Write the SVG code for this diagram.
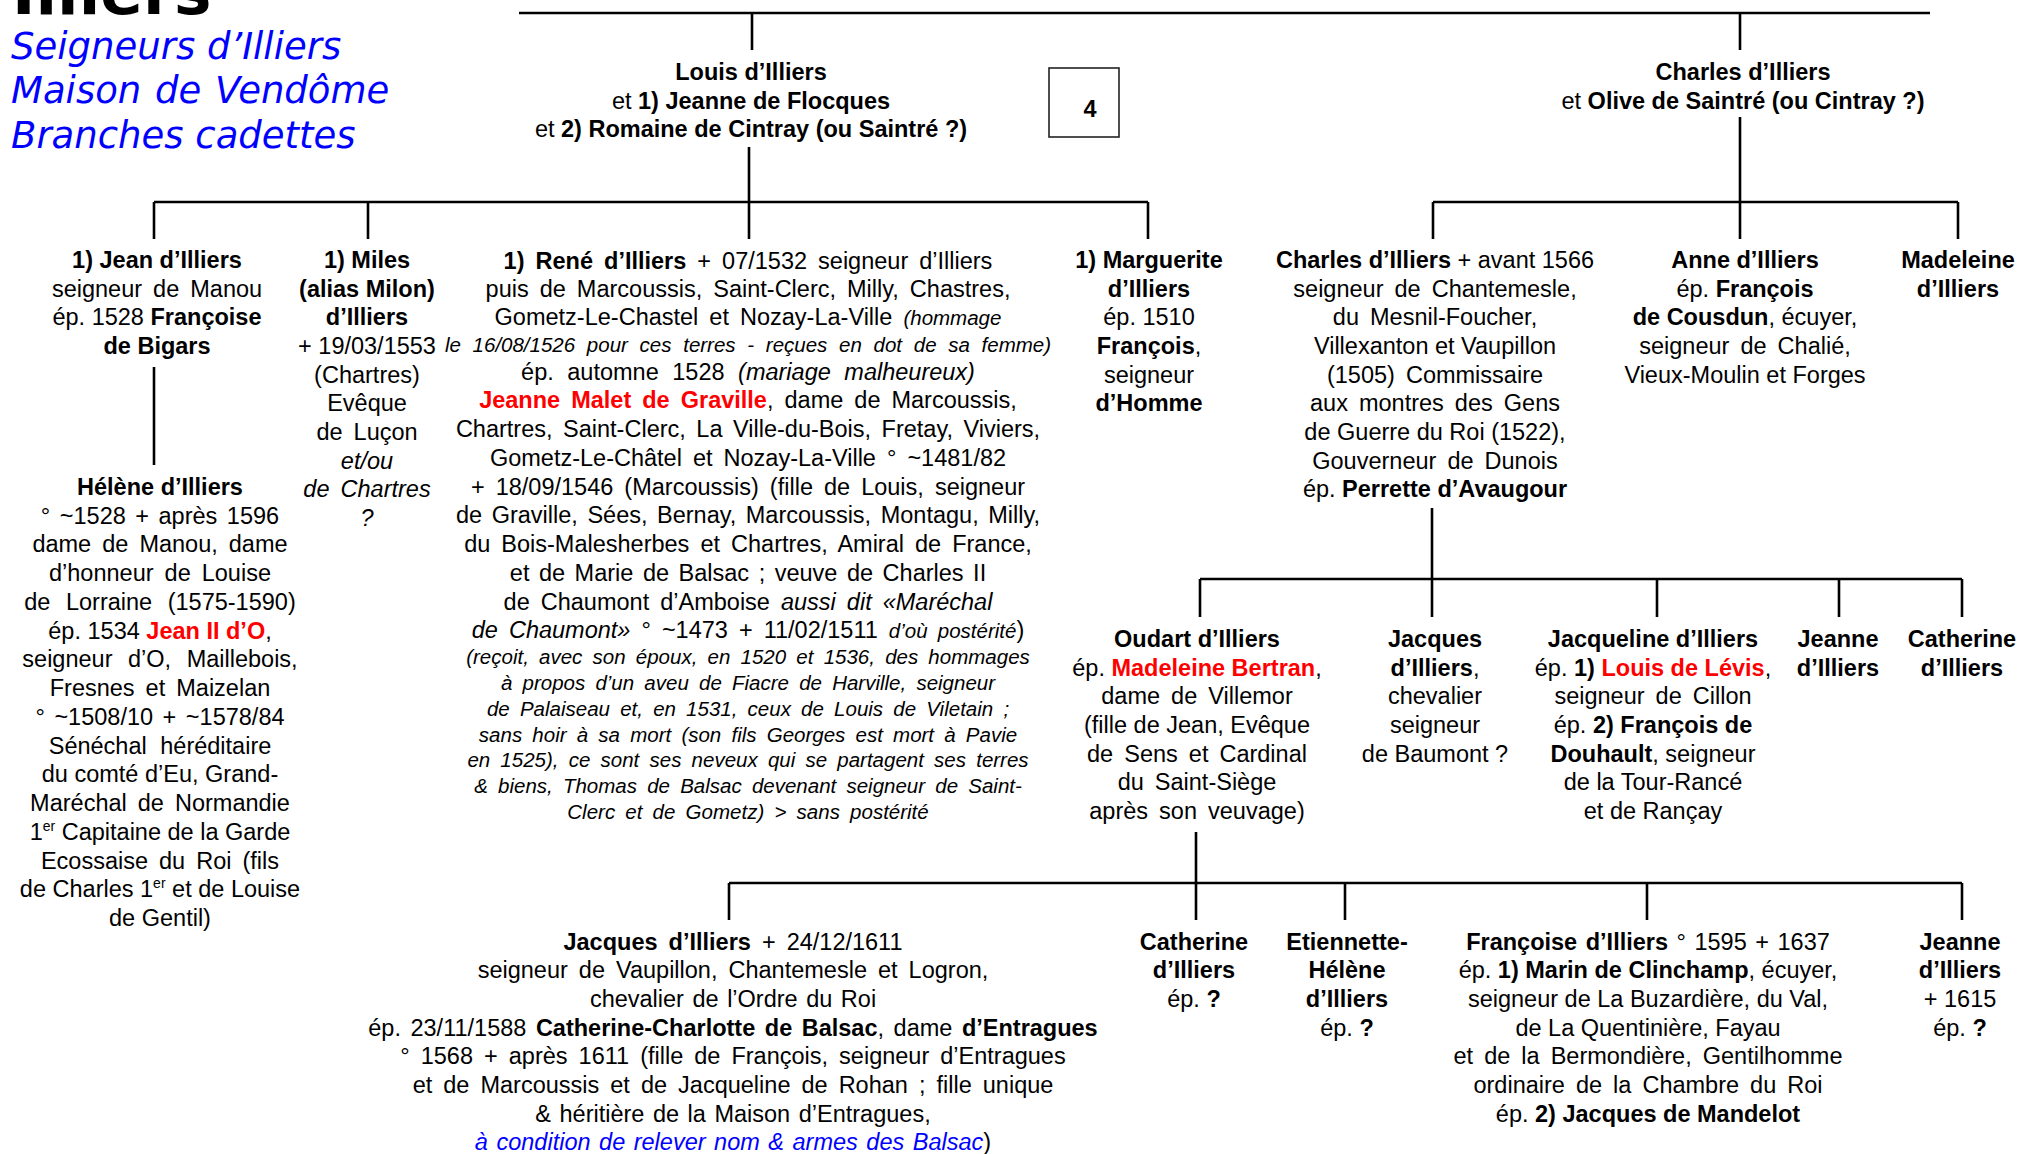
<svg xmlns="http://www.w3.org/2000/svg" width="2020" height="1154" viewBox="0 0 2020 1154">
<style>
text{font-family:"Liberation Sans",Arial,sans-serif;font-size:23.5px;fill:#000;text-anchor:middle}
.b{font-weight:bold}
.i{font-style:italic}
.s{font-size:20.5px;font-style:italic}
.r{fill:#f00;font-weight:bold}
.bl{fill:#00f;font-style:italic}
.j{word-spacing:4.5px}
.title{font-family:"DejaVu Sans",Verdana,sans-serif;font-weight:bold;font-size:63px;text-anchor:start}
.sub{font-family:"DejaVu Sans",Verdana,sans-serif;font-style:italic;font-size:37px;fill:#00f;text-anchor:start}
.c{stroke:#000;stroke-width:2.6;fill:none}
.box{stroke:#222;stroke-width:1.6;fill:#fff}
</style>
<rect width="2020" height="1154" fill="#fff"/>
<g id="title">
<text class="title" x="12" y="14">Illiers</text>
<text class="sub" x="11" y="59">Seigneurs d’Illiers</text>
<text class="sub" x="11" y="103" word-spacing="2">Maison de Vendôme</text>
<text class="sub" x="11" y="148">Branches cadettes</text>
</g>
<g id="connectors">
<path class="c" d="M519,13H1930M752,13V50M1740,13V50"/>
<path class="c" d="M749,147V239M154,202H1148M154,202V239M368,202V239M1148,202V239"/>
<path class="c" d="M1740,117V239M1433,202H1958M1433,202V239M1958,202V239"/>
<path class="c" d="M154,367V465"/>
<path class="c" d="M1432,508V617M1200,579H1962M1200,579V617M1657,579V617M1839,579V617M1962,579V617"/>
<path class="c" d="M1196,832V920M729,883H1962M729,883V920M1345,883V920M1647,883V920M1962,883V920"/>
</g>
<g id="box4">
<rect class="box" x="1049" y="68" width="70" height="69"/>
<text class="b" x="1090" y="117" font-size="26">4</text>
</g>
<g id="louis">
<text x="751" y="80" class="b">Louis d’Illiers</text>
<text x="751" y="108.5">et <tspan class="b">1) Jeanne de Flocques</tspan></text>
<text x="751" y="137">et <tspan class="b">2) Romaine de Cintray (ou Saintré ?)</tspan></text>
</g>
<g id="charles">
<text x="1743" y="80" class="b">Charles d’Illiers</text>
<text x="1743" y="108.5">et <tspan class="b">Olive de Saintré (ou Cintray ?)</tspan></text>
</g>
<g id="jean">
<text x="157" y="268" class="b">1) Jean d’Illiers</text>
<text x="157" y="297" class="j">seigneur de Manou</text>
<text x="157" y="325">ép. 1528 <tspan class="b">Françoise</tspan></text>
<text x="157" y="354" class="b">de Bigars</text>
</g>
<g id="miles">
<text x="367" y="268" class="b">1) Miles</text>
<text x="367" y="297" class="b">(alias Milon)</text>
<text x="367" y="325" class="b">d’Illiers</text>
<text x="367" y="354">+ 19/03/1553</text>
<text x="367" y="383">(Chartres)</text>
<text x="367" y="411">Evêque</text>
<text x="367" y="440" class="j">de Luçon</text>
<text x="367" y="469" class="i">et/ou</text>
<text x="367" y="497" class="i j">de Chartres</text>
<text x="367" y="526" class="i">?</text>
</g>
<g id="rene">
<text x="748" y="269" class="j"><tspan class="b">1) René d’Illiers</tspan> + 07/1532 seigneur d’Illiers</text>
<text x="748" y="297" class="j">puis de Marcoussis, Saint-Clerc, Milly, Chastres,</text>
<text x="748" y="325" class="j">Gometz-Le-Chastel et Nozay-La-Ville <tspan class="s">(hommage</tspan></text>
<text x="748" y="352" class="s" word-spacing="6">le 16/08/1526 pour ces terres - reçues en dot de sa femme)</text>
<text x="748" y="380" word-spacing="7">ép. automne 1528  <tspan class="i">(mariage malheureux)</tspan></text>
<text x="748" y="408" class="j"><tspan class="r">Jeanne Malet de Graville</tspan>, dame de Marcoussis,</text>
<text x="748" y="437" word-spacing="4">Chartres, Saint-Clerc, La Ville-du-Bois, Fretay, Viviers,</text>
<text x="748" y="466" class="j">Gometz-Le-Châtel et Nozay-La-Ville  ° ~1481/82</text>
<text x="748" y="495" class="j">+ 18/09/1546 (Marcoussis) (fille de Louis, seigneur</text>
<text x="748" y="523" word-spacing="3">de Graville, Sées, Bernay, Marcoussis, Montagu, Milly,</text>
<text x="748" y="552" class="j">du Bois-Malesherbes et Chartres, Amiral de France,</text>
<text x="748" y="581" word-spacing="3">et de Marie de Balsac ; veuve de Charles II</text>
<text x="748" y="610" class="j">de Chaumont d’Amboise <tspan class="i">aussi dit «Maréchal</tspan></text>
<text x="748" y="638" class="j"><tspan class="i">de Chaumont»</tspan> ° ~1473 + 11/02/1511 <tspan class="s">d’où postérité</tspan>)</text>
<text x="748" y="664" class="s j">(reçoit, avec son époux, en 1520 et 1536, des hommages</text>
<text x="748" y="690" class="s j">à propos d’un aveu de Fiacre de Harville, seigneur</text>
<text x="748" y="716" class="s j">de Palaiseau et, en 1531, ceux de Louis de Viletain ;</text>
<text x="748" y="742" class="s j">sans hoir à sa mort (son fils Georges est mort à Pavie</text>
<text x="748" y="767" class="s j">en 1525), ce sont ses neveux qui se partagent ses terres</text>
<text x="748" y="793" class="s j">&amp; biens, Thomas de Balsac devenant seigneur de Saint-</text>
<text x="748" y="819" class="s j">Clerc et de Gometz) &gt; sans postérité</text>
</g>
<g id="marguerite">
<text x="1149" y="268" class="b">1) Marguerite</text>
<text x="1149" y="297" class="b">d’Illiers</text>
<text x="1149" y="325">ép. 1510</text>
<text x="1149" y="354"><tspan class="b">François</tspan>,</text>
<text x="1149" y="383">seigneur</text>
<text x="1149" y="411" class="b">d’Homme</text>
</g>
<g id="charles2">
<text x="1435" y="268"><tspan class="b">Charles d’Illiers</tspan> + avant 1566</text>
<text x="1435" y="297" class="j">seigneur de Chantemesle,</text>
<text x="1435" y="325" class="j">du Mesnil-Foucher,</text>
<text x="1435" y="354">Villexanton et Vaupillon</text>
<text x="1435" y="383" class="j">(1505) Commissaire</text>
<text x="1435" y="411" class="j">aux montres des Gens</text>
<text x="1435" y="440">de Guerre du Roi (1522),</text>
<text x="1435" y="469" class="j">Gouverneur de Dunois</text>
<text x="1435" y="497">ép. <tspan class="b">Perrette d’Avaugour</tspan></text>
</g>
<g id="anne">
<text x="1745" y="268" class="b">Anne d’Illiers</text>
<text x="1745" y="297">ép. <tspan class="b">François</tspan></text>
<text x="1745" y="325"><tspan class="b">de Cousdun</tspan>, écuyer,</text>
<text x="1745" y="354" class="j">seigneur de Chalié,</text>
<text x="1745" y="383">Vieux-Moulin et Forges</text>
</g>
<g id="madeleine">
<text x="1958" y="268" class="b">Madeleine</text>
<text x="1958" y="297" class="b">d’Illiers</text>
</g>
<g id="helene">
<text x="160" y="495" class="b">Hélène d’Illiers</text>
<text x="160" y="524" word-spacing="3">° ~1528 + après 1596</text>
<text x="160" y="552" class="j">dame de Manou, dame</text>
<text x="160" y="581" class="j">d’honneur de Louise</text>
<text x="160" y="610" word-spacing="9">de Lorraine (1575-1590)</text>
<text x="160" y="639">ép. 1534 <tspan class="r">Jean II d’O</tspan>,</text>
<text x="160" y="667" word-spacing="9">seigneur d’O, Maillebois,</text>
<text x="160" y="696" class="j">Fresnes et Maizelan</text>
<text x="160" y="725" word-spacing="3">° ~1508/10 + ~1578/84</text>
<text x="160" y="754" word-spacing="7">Sénéchal héréditaire</text>
<text x="160" y="782">du comté d’Eu, Grand-</text>
<text x="160" y="811" class="j">Maréchal de Normandie</text>
<text x="160" y="840">1<tspan font-size="14" dy="-9">er</tspan><tspan dy="9"> Capitaine de la Garde</tspan></text>
<text x="160" y="869" class="j">Ecossaise du Roi (fils</text>
<text x="160" y="897">de Charles 1<tspan font-size="14" dy="-9">er</tspan><tspan dy="9"> et de Louise</tspan></text>
<text x="160" y="926">de Gentil)</text>
</g>
<g id="oudart">
<text x="1197" y="647" class="b">Oudart d’Illiers</text>
<text x="1197" y="676">ép. <tspan class="r">Madeleine Bertran</tspan>,</text>
<text x="1197" y="704" class="j">dame de Villemor</text>
<text x="1197" y="733">(fille de Jean, Evêque</text>
<text x="1197" y="762" class="j">de Sens et Cardinal</text>
<text x="1197" y="790" class="j">du Saint-Siège</text>
<text x="1197" y="819" class="j">après son veuvage)</text>
</g>
<g id="jacques3">
<text x="1435" y="647" class="b">Jacques</text>
<text x="1435" y="676"><tspan class="b">d’Illiers</tspan>,</text>
<text x="1435" y="704">chevalier</text>
<text x="1435" y="733">seigneur</text>
<text x="1435" y="762">de Baumont ?</text>
</g>
<g id="jacqueline">
<text x="1653" y="647" class="b">Jacqueline d’Illiers</text>
<text x="1653" y="676">ép. <tspan class="b">1) </tspan><tspan class="r">Louis de Lévis</tspan>,</text>
<text x="1653" y="704" class="j">seigneur de Cillon</text>
<text x="1653" y="733">ép. <tspan class="b">2) François de</tspan></text>
<text x="1653" y="762"><tspan class="b">Douhault</tspan>, seigneur</text>
<text x="1653" y="790">de la Tour-Rancé</text>
<text x="1653" y="819">et de Rançay</text>
</g>
<g id="jeanne3">
<text x="1838" y="647" class="b">Jeanne</text>
<text x="1838" y="676" class="b">d’Illiers</text>
</g>
<g id="catherine3">
<text x="1962" y="647" class="b">Catherine</text>
<text x="1962" y="676" class="b">d’Illiers</text>
</g>
<g id="jacques4">
<text x="733" y="950" class="j"><tspan class="b">Jacques d’Illiers</tspan> + 24/12/1611</text>
<text x="733" y="978" class="j">seigneur de Vaupillon, Chantemesle et Logron,</text>
<text x="733" y="1007" word-spacing="2">chevalier de l’Ordre du Roi</text>
<text x="733" y="1036" word-spacing="3">ép. 23/11/1588 <tspan class="b">Catherine-Charlotte de Balsac</tspan>, dame <tspan class="b">d’Entragues</tspan></text>
<text x="733" y="1064" class="j">° 1568 + après 1611 (fille de François, seigneur d’Entragues</text>
<text x="733" y="1093" class="j">et de Marcoussis et de Jacqueline de Rohan ; fille unique</text>
<text x="733" y="1122" word-spacing="2">&amp; héritière de la Maison d’Entragues,</text>
<text x="733" y="1150" word-spacing="2"><tspan class="bl">à condition de relever nom &amp; armes des Balsac</tspan>)</text>
</g>
<g id="catherine4">
<text x="1194" y="950" class="b">Catherine</text>
<text x="1194" y="978" class="b">d’Illiers</text>
<text x="1194" y="1007">ép. <tspan class="b">?</tspan></text>
</g>
<g id="etiennette">
<text x="1347" y="950" class="b">Etiennette-</text>
<text x="1347" y="978" class="b">Hélène</text>
<text x="1347" y="1007" class="b">d’Illiers</text>
<text x="1347" y="1036">ép. <tspan class="b">?</tspan></text>
</g>
<g id="francoise">
<text x="1648" y="950" word-spacing="2"><tspan class="b">Françoise d’Illiers</tspan> ° 1595 + 1637</text>
<text x="1648" y="978">ép. <tspan class="b">1) Marin de Clinchamp</tspan>, écuyer,</text>
<text x="1648" y="1007">seigneur de La Buzardière, du Val,</text>
<text x="1648" y="1036">de La Quentinière, Fayau</text>
<text x="1648" y="1064" class="j">et de la Bermondière, Gentilhomme</text>
<text x="1648" y="1093" class="j">ordinaire de la Chambre du Roi</text>
<text x="1648" y="1122">ép. <tspan class="b">2) Jacques de Mandelot</tspan></text>
</g>
<g id="jeanne4">
<text x="1960" y="950" class="b">Jeanne</text>
<text x="1960" y="978" class="b">d’Illiers</text>
<text x="1960" y="1007">+ 1615</text>
<text x="1960" y="1036">ép. <tspan class="b">?</tspan></text>
</g>
</svg>
